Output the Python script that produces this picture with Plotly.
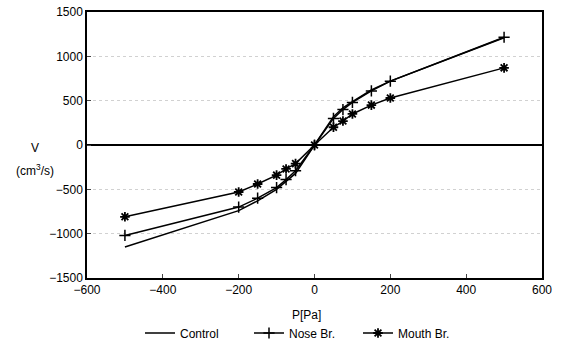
import plotly.graph_objects as go

pressure = [-500, -200, -150, -100, -75, -50, 0, 50, 75, 100, 150, 200, 500]
control = [-1150, -740, -630, -500, -410, -320, 0, 320, 420, 490, 620, 720, 1210]
nose_br = [-1020, -700, -600, -480, -390, -290, 0, 300, 400, 480, 610, 720, 1215]
mouth_br = [-810, -530, -440, -340, -270, -210, 0, 200, 270, 350, 450, 530, 870]

x_ticks = [-600, -400, -200, 0, 200, 400, 600]
y_ticks = [-1500, -1000, -500, 0, 500, 1000, 1500]

FONT = "Liberation Sans, Arial, sans-serif"
line = dict(color="black", width=1.5)

fig = go.Figure()
fig.add_trace(go.Scatter(x=pressure, y=control, mode="lines", name="Control", line=line))
fig.add_trace(go.Scatter(x=pressure, y=nose_br, mode="lines+markers", name="Nose Br.", line=line,
                         marker=dict(symbol="cross-thin-open", size=8, line=dict(color="black", width=1.5))))
fig.add_trace(go.Scatter(x=pressure, y=mouth_br, mode="lines+markers", name="Mouth Br.", line=line,
                         marker=dict(symbol="asterisk-open", size=8, line=dict(color="black", width=1.8))))

W, H = 567, 346
# desired on-screen plot box (page body margin removed via post_script)
SL, ST, SR, SB = 87, 12, 542, 278
L, T = SL, ST
R, B = W - SR, H - SB
PW, PH = SR - SL, SB - ST


def px(sx):
    return (sx - SL) / PW


def py(sy):
    return (SB - sy) / PH


fig.update_layout(
    width=W, height=H,
    margin=dict(l=L, r=R, t=T, b=B, autoexpand=False),
    paper_bgcolor="white", plot_bgcolor="white",
    font=dict(family=FONT, size=12, color="black"),
    showlegend=True,
    legend=dict(orientation="h", xref="container", yref="container",
                x=140 / W, xanchor="left", y=(H - 333) / H, yanchor="middle",
                font=dict(size=12), entrywidth=64, entrywidthmode="pixels",
                itemwidth=30, tracegroupgap=0, bgcolor="rgba(0,0,0,0)"),
    xaxis=dict(range=[-600, 600], tickvals=x_ticks, ticks="inside", ticklen=4,
               showline=True, linecolor="black", linewidth=1.5, mirror=True,
               showgrid=False, zeroline=False, tickfont=dict(size=12), automargin=False,
               ticklabeloverflow="allow"),
    yaxis=dict(range=[-1500, 1500], tickvals=y_ticks, ticks="inside", ticklen=4,
               showline=True, linecolor="black", linewidth=1.5, mirror=True,
               showgrid=True, gridcolor="rgba(0,0,0,0.18)", griddash="dot", gridwidth=1,
               zeroline=True, zerolinecolor="black", zerolinewidth=1.5,
               tickfont=dict(size=12), automargin=False, ticklabeloverflow="allow"),
)
fig.add_annotation(text="P[Pa]", x=px(306), xref="paper", y=py(315), yref="paper",
                   showarrow=False, xanchor="center", yanchor="middle", font=dict(size=12))
fig.add_annotation(text="V", x=px(35), xref="paper", y=py(148), yref="paper",
                   showarrow=False, xanchor="center", yanchor="middle", font=dict(size=12))
fig.add_annotation(text="(cm<sup>3</sup>/s)", x=px(35), xref="paper", y=py(170),
                   yref="paper", showarrow=False, xanchor="center", yanchor="middle", font=dict(size=12))

fig.write_html("out.html", config={"displayModeBar": False},
               post_script="document.body.style.margin='0';")
